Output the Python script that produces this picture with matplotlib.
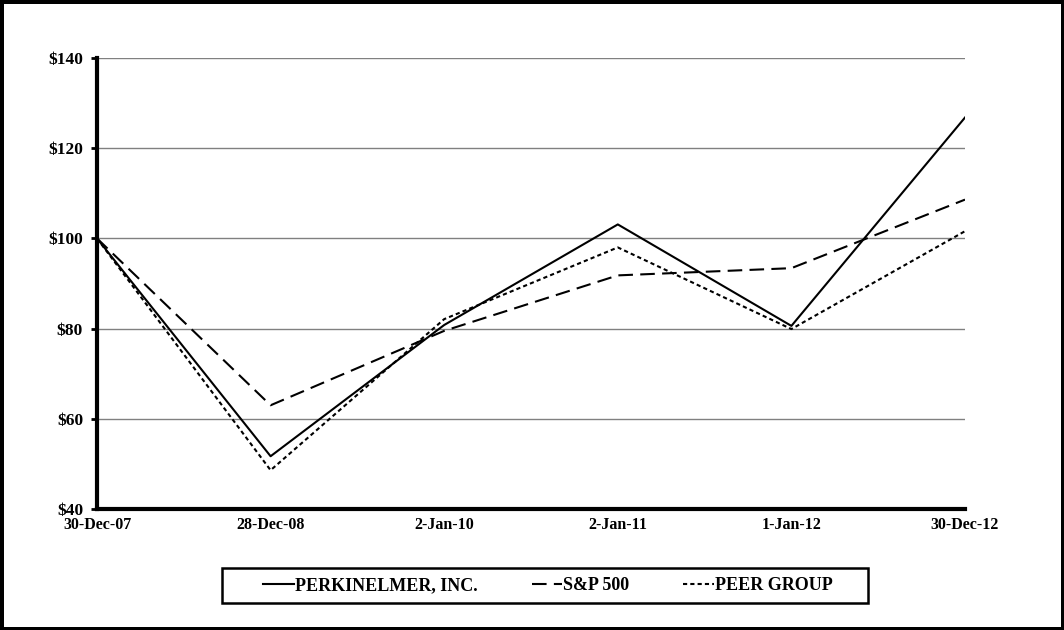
import matplotlib
matplotlib.use('Agg')
import matplotlib.pyplot as plt
from matplotlib.patches import Rectangle

plt.rcParams['font.family'] = ['Liberation Serif', 'DejaVu Serif']
plt.rcParams['font.weight'] = 'bold'

dates = ['30-Dec-07', '28-Dec-08', '2-Jan-10', '2-Jan-11', '1-Jan-12', '30-Dec-12']
perkinelmer = [100, 51.7, 80.8, 103.1, 80.6, 126.8]
sp500 = [100, 63.0, 79.5, 91.8, 93.4, 108.6]
peer_group = [100, 48.6, 82.1, 98.0, 79.9, 101.6]

yticks = [40, 60, 80, 100, 120, 140]

fig = plt.figure(figsize=(10.64, 6.30), dpi=100)
fig.patch.set_edgecolor('black')
fig.patch.set_linewidth(5)

ax = fig.add_axes([97/1064, 1-509/630, 868/1064, 451/630])
x = list(range(len(dates)))

l1, = ax.plot(x, perkinelmer, color='black', lw=1.5, label='PERKINELMER, INC.')
l2, = ax.plot(x, sp500, color='black', lw=1.5, dashes=(7, 3.5), label='S&P 500')
l3, = ax.plot(x, peer_group, color='black', lw=1.5, dashes=(2, 1.5), label='PEER GROUP')

ax.set_xlim(0, len(dates) - 1)
ax.set_ylim(40, 140)
ax.set_yticks(yticks)
ax.set_yticklabels(['${}'.format(v) for v in yticks], fontsize=12.5, fontweight='bold')
ax.set_xticks(x)
ax.set_xticklabels(dates, fontsize=11.5, fontweight='bold')
ax.grid(axis='y', color='#808080', lw=1)
ax.set_axisbelow(True)

for s in ['top', 'right']:
    ax.spines[s].set_visible(False)
ax.spines['left'].set_linewidth(3)
ax.spines['bottom'].set_linewidth(3)
ax.tick_params(axis='y', direction='out', length=4, width=2, pad=6)
ax.tick_params(axis='x', length=0, pad=6)

# legend box
fig.patches.append(Rectangle((222/1064, 1-603/630), 646/1064, 35/630,
                             transform=fig.transFigure, fill=False,
                             edgecolor='black', lw=1.8))
fig.legend(handles=[l1, l2, l3], loc='center',
           bbox_to_anchor=(548/1064, 1-585.5/630),
           ncol=3, frameon=False, handlelength=1.7, handletextpad=0.05,
           columnspacing=3.0, prop={'size': 13, 'weight': 'bold'})

fig.savefig('out.png', dpi=100)
